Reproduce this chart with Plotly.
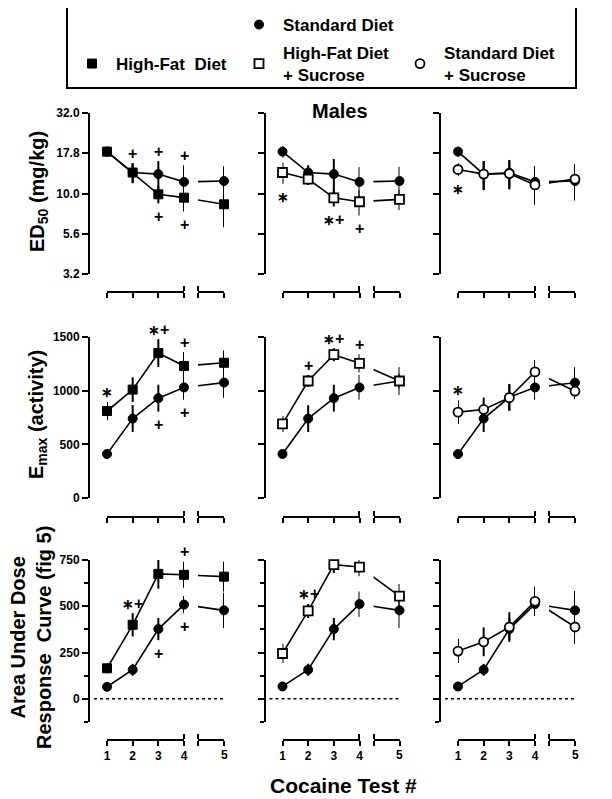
import math
import plotly.graph_objects as go

# the page body adds an 8 px margin, so the figure is 8 px smaller and all
# reference pixel positions are shifted by that offset
OFF = 8
W, H = 612 - OFF, 799 - OFF
FONT = "Liberation Sans, Arial, sans-serif"

# ---------------- data ----------------
tests = [1, 2, 3, 4, 5]
tick_labels = ["1", "2", "3", "4", "5"]

# Row 1: ED50 (mg/kg)
ed50_sd_c1 = [18.2, 13.5, 13.2, 11.8, 11.95]
ed50_sd_c1_err = [1.3, 1.9, 2.7, 3.2, 2.8]
ed50_hf = [18.2, 13.5, 9.88, 9.42, 8.57]
ed50_hf_err = [1.3, 1.9, 1.2, 1.7, 2.4]
ed50_sd_c2 = [18.2, 13.5, 13.2, 11.8, 11.95]
ed50_sd_c2_err = [1.5, 1.5, 3.2, 2.8, 2.7]
ed50_hfs = [13.5, 12.3, 9.4, 8.89, 9.2]
ed50_hfs_err = [2.0, 1.0, 1.1, 1.6, 1.3]
ed50_sd_c3 = [18.2, 13.2, 13.46, 11.8, 11.95]
ed50_sd_c3_err = [1.3, 2.7, 2.7, 3.0, 2.9]
ed50_sds = [14.1, 13.2, 13.3, 11.3, 12.3]
ed50_sds_err = [1.3, 2.7, 2.7, 2.8, 2.9]

# Row 2: Emax (activity)
emax_sd_c1 = [410, 740, 930, 1030, 1075]
emax_sd_c1_err = [30, 125, 125, 115, 140]
emax_hf = [810, 1010, 1350, 1230, 1260]
emax_hf_err = [85, 115, 130, 130, 115]
emax_sd_c2 = [410, 740, 930, 1030, 1090]
emax_sd_c2_err = [30, 125, 125, 115, 130]
emax_hfs = [690, 1090, 1335, 1255, 1090]
emax_hfs_err = [75, 55, 60, 85, 70]
emax_sd_c3 = [410, 740, 938, 1030, 1074]
emax_sd_c3_err = [30, 125, 125, 115, 145]
emax_sds = [800, 825, 935, 1175, 995]
emax_sds_err = [110, 110, 120, 110, 75]

# Row 3: Area under dose response curve
auc_sd_c1 = [65, 157, 377, 509, 478]
auc_sd_c1_err = [22, 32, 60, 47, 95]
auc_hf = [165, 400, 675, 670, 660]
auc_hf_err = [27, 63, 80, 70, 80]
auc_sd_c2 = [67, 157, 377, 512, 478]
auc_sd_c2_err = [22, 32, 60, 68, 95]
auc_hfs = [245, 475, 725, 712, 555]
auc_hfs_err = [52, 38, 45, 50, 65]
auc_sd_c3 = [67, 157, 377, 512, 478]
auc_sd_c3_err = [22, 32, 60, 47, 105]
auc_sds = [258, 308, 388, 527, 388]
auc_sds_err = [65, 78, 80, 80, 90]

series_names = {
    "sd": "Standard Diet",
    "hf": "High-Fat\u00a0 Diet",
    "hfs": "High-Fat Diet<br>+ Sucrose",
    "sds": "Standard Diet<br>+ Sucrose",
}

# significance marks: (row, col, series, test, text, side)
sig_marks = [
    (0, 0, "sd", 2, "+", "above"), (0, 0, "sd", 3, "+", "above"), (0, 0, "sd", 4, "+", "above"),
    (0, 0, "hf", 3, "+", "below"), (0, 0, "hf", 4, "+", "below"),
    (0, 1, "hfs", 1, "*", "below"), (0, 1, "hfs", 3, "*+", "below"), (0, 1, "hfs", 4, "+", "below"),
    (0, 2, "sds", 1, "*", "below"),
    (1, 0, "hf", 1, "*", "above"), (1, 0, "hf", 3, "*+", "above"), (1, 0, "hf", 4, "+", "above"),
    (1, 0, "sd", 3, "+", "below"), (1, 0, "sd", 4, "+", "below"),
    (1, 1, "hfs", 2, "+", "above"), (1, 1, "hfs", 3, "*+", "above"), (1, 1, "hfs", 4, "+", "above"),
    (1, 2, "sds", 1, "*", "above"),
    (2, 0, "hf", 2, "*+", "above"), (2, 0, "hf", 3, "*+", "above"), (2, 0, "hf", 4, "+", "above"),
    (2, 0, "sd", 3, "+", "below"), (2, 0, "sd", 4, "+", "below"),
    (2, 1, "hfs", 2, "*+", "above"), (2, 1, "hfs", 3, "*+", "above"), (2, 1, "hfs", 4, "+", "above"),
]

panels = {
    (0, 0): [("sd", ed50_sd_c1, ed50_sd_c1_err), ("hf", ed50_hf, ed50_hf_err)],
    (0, 1): [("sd", ed50_sd_c2, ed50_sd_c2_err), ("hfs", ed50_hfs, ed50_hfs_err)],
    (0, 2): [("sd", ed50_sd_c3, ed50_sd_c3_err), ("sds", ed50_sds, ed50_sds_err)],
    (1, 0): [("sd", emax_sd_c1, emax_sd_c1_err), ("hf", emax_hf, emax_hf_err)],
    (1, 1): [("sd", emax_sd_c2, emax_sd_c2_err), ("hfs", emax_hfs, emax_hfs_err)],
    (1, 2): [("sd", emax_sd_c3, emax_sd_c3_err), ("sds", emax_sds, emax_sds_err)],
    (2, 0): [("sd", auc_sd_c1, auc_sd_c1_err), ("hf", auc_hf, auc_hf_err)],
    (2, 1): [("sd", auc_sd_c2, auc_sd_c2_err), ("hfs", auc_hfs, auc_hfs_err)],
    (2, 2): [("sd", auc_sd_c3, auc_sd_c3_err), ("sds", auc_sds, auc_sds_err)],
}

# ---------------- styles / layout geometry (reference pixels) ----------------
MSIZE = 9
styles = {
    "sd": dict(symbol="circle", color="black", size=MSIZE, line=dict(color="black", width=1)),
    "hf": dict(symbol="square", color="black", size=MSIZE, line=dict(color="black", width=1)),
    "hfs": dict(symbol="square", color="white", size=MSIZE, line=dict(color="black", width=1.8)),
    "sds": dict(symbol="circle", color="white", size=MSIZE, line=dict(color="black", width=1.8)),
}

col_dx = [0, 175.5, 351]
YAX_PX, X1_PX, X4_PX, S2_PX, X5_PX = 89, 107, 184, 198, 224
row_ydom_px = [(113, 274), (337, 498), (560, 722)]
row_xaxis_px = [292, 517, 740]
XLABEL_PX = 755
seg2_start = 5 - (X5_PX - S2_PX) / (X5_PX - X4_PX)


def px_x(p):
    return (p - OFF) / W


def px_y(p):
    return 1 - (p - OFF) / H


fig = go.Figure()
layout = {}
annotations = []
shapes = []
tickfont = dict(family=FONT, size=12, color="black", weight="bold")

for (r, c), series in panels.items():
    p = r * 3 + c + 1
    ya = "y" if p == 1 else f"y{p}"
    xa = "x" if p == 1 else f"x{p}"
    xb = f"x{p + 9}"
    dx = col_dx[c]
    ytop, ybot = row_ydom_px[r]

    yax = dict(
        domain=[px_y(ybot), px_y(ytop)], anchor="free", position=px_x(YAX_PX + dx),
        showline=True, linewidth=2, linecolor="black", ticks="outside", ticklen=6,
        tickwidth=2, tickcolor="black", showgrid=False, zeroline=False, automargin=False,
        showticklabels=(c == 0), tickfont=tickfont,
    )
    if r == 0:
        yax.update(type="log", range=[0.5, 1.5],
                   tickvals=[10 ** 0.5, 10 ** 0.75, 10, 10 ** 1.25, 10 ** 1.5],
                   ticktext=["3.2", "5.6", "10.0", "17.8", "32.0"])
    elif r == 1:
        yax.update(range=[0, 1500], tickvals=[0, 500, 1000, 1500])
    else:
        yax.update(range=[-125, 750], tickvals=[0, 250, 500, 750],
                   minor=dict(tickvals=[-125, 125, 375, 625], ticks="outside", ticklen=4,
                              tickwidth=2, tickcolor="black"))
    layout["yaxis" if p == 1 else f"yaxis{p}"] = yax

    xpos = px_y(row_xaxis_px[r])
    common_x = dict(anchor="free", position=xpos, showline=True, linewidth=2, linecolor="black",
                    ticks="outside", ticklen=5, tickwidth=2, tickcolor="black", showgrid=False,
                    zeroline=False, automargin=False, tickfont=tickfont)
    layout["xaxis" if p == 1 else f"xaxis{p}"] = dict(
        domain=[px_x(X1_PX + dx), px_x(X4_PX + dx)], range=[1, 4],
        tickvals=tests[:4], ticktext=tick_labels[:4], showticklabels=(r == 2),
        minor=dict(tickvals=[3.995], ticks="inside", ticklen=5, tickwidth=2, tickcolor="black"),
        **common_x)
    layout[f"xaxis{p + 9}"] = dict(
        domain=[px_x(S2_PX + dx), px_x(X5_PX + dx)], range=[seg2_start, 5],
        tickvals=[seg2_start + 0.005, 5], showticklabels=False,
        minor=dict(tickvals=[seg2_start + 0.01], ticks="inside", ticklen=5, tickwidth=2,
                   tickcolor="black"),
        **common_x)
    if r == 2:
        # label of the lone tick on the second (broken) axis segment
        annotations.append(dict(x=tests[4], y=px_y(XLABEL_PX), xref=xb, yref="paper",
                                text=tick_labels[4], showarrow=False, xanchor="center",
                                yanchor="middle", font=tickfont))
        shapes.append(dict(type="line", xref="paper", yref=ya, x0=px_x(YAX_PX + dx + 5),
                           x1=px_x(X5_PX + dx), y0=0, y1=0,
                           line=dict(color="black", width=1.5, dash="dot")))

    for key, vals, errs in series:
        st = styles[key]
        fig.add_trace(go.Scatter(
            x=tests[:4], y=vals[:4], mode="lines+markers", xaxis=xa, yaxis=ya,
            marker=st, line=dict(color="black", width=1.6), cliponaxis=False,
            error_y=dict(type="data", array=errs[:4], width=0, thickness=2, color="black"),
            showlegend=False, hoverinfo="skip"))
        fig.add_trace(go.Scatter(
            x=tests[3:5], y=vals[3:5], mode="lines+markers", xaxis=xb, yaxis=ya,
            marker=dict(st, opacity=[0, 1]), line=dict(color="black", width=1.6), cliponaxis=False,
            error_y=dict(type="data", array=[0, errs[4]], width=0, thickness=2, color="black"),
            showlegend=False, hoverinfo="skip"))

# significance annotations
STAR = '<span style="font-size:14px">\u2217</span>'
for r, c, key, t, txt, side in sig_marks:
    p = r * 3 + c + 1
    ya = "y" if p == 1 else f"y{p}"
    xa = "x" if p == 1 else f"x{p}"
    for k, vals, errs in panels[(r, c)]:
        if k == key:
            v, e = vals[t - 1], errs[t - 1]
    yv = v + e if side == "above" else v - e
    if r == 0:
        yv = math.log10(yv)
    annotations.append(dict(
        x=t, y=yv, xref=xa, yref=ya, text=txt.replace("*", STAR), showarrow=False,
        xanchor="center", yanchor="middle", yshift=10 if side == "above" else -13,
        font=dict(family=FONT, size=16, color="black", weight="bold")))

# legend-only traces
legend_ids = {"sd": "legend", "hf": "legend2", "hfs": "legend3", "sds": "legend4"}
for key in ["sd", "hf", "hfs", "sds"]:
    fig.add_trace(go.Scatter(x=[None], y=[None], mode="markers", marker=styles[key],
                             name=series_names[key], legend=legend_ids[key], showlegend=True,
                             xaxis="x", yaxis="y"))

legfont = dict(family=FONT, size=17, color="black", weight="bold")
leg_common = dict(xanchor="left", yanchor="middle", xref="container", yref="container",
                  font=legfont, bgcolor="rgba(0,0,0,0)", borderwidth=0, itemwidth=38,
                  tracegroupgap=0)
layout["legend"] = dict(x=px_x(259 - 24), y=px_y(25), **leg_common)
layout["legend2"] = dict(x=px_x(92 - 24), y=px_y(64), **leg_common)
layout["legend3"] = dict(x=px_x(259 - 24), y=px_y(64), **leg_common)
layout["legend4"] = dict(x=px_x(420 - 24), y=px_y(64), **leg_common)

shapes.append(dict(type="rect", xref="paper", yref="paper", x0=px_x(67), x1=px_x(576),
                   y0=px_y(88), y1=px_y(7), line=dict(color="black", width=2)))

titlefont = dict(family=FONT, size=20, color="black", weight="bold")
annotations += [
    dict(x=px_x(340), y=px_y(111), xref="paper", yref="paper", text="Males", showarrow=False,
         font=titlefont, xanchor="center", yanchor="middle"),
    dict(x=px_x(38), y=px_y(192), xref="paper", yref="paper", text="ED<sub>50</sub> (mg/kg)",
         showarrow=False, textangle=-90, font=titlefont, xanchor="center", yanchor="middle"),
    dict(x=px_x(38), y=px_y(415), xref="paper", yref="paper", text="E<sub>max</sub> (activity)",
         showarrow=False, textangle=-90, font=titlefont, xanchor="center", yanchor="middle"),
    dict(x=px_x(31), y=px_y(638), xref="paper", yref="paper",
         text="Area Under Dose<br>Response\u00a0 Curve (fig 5)",
         showarrow=False, textangle=-90, font=titlefont, xanchor="center", yanchor="middle"),
    dict(x=px_x(343), y=px_y(785), xref="paper", yref="paper", text="Cocaine Test #",
         showarrow=False, font=dict(family=FONT, size=21, color="black", weight="bold"),
         xanchor="center", yanchor="middle"),
]

fig.update_layout(
    template="none",
    width=W, height=H, margin=dict(l=0, r=0, t=0, b=0, pad=0, autoexpand=False),
    paper_bgcolor="white", plot_bgcolor="white",
    font=dict(family=FONT, size=12, color="black", weight="bold"),
    annotations=annotations, shapes=shapes, **layout,
)

fig.write_html("out.html")
